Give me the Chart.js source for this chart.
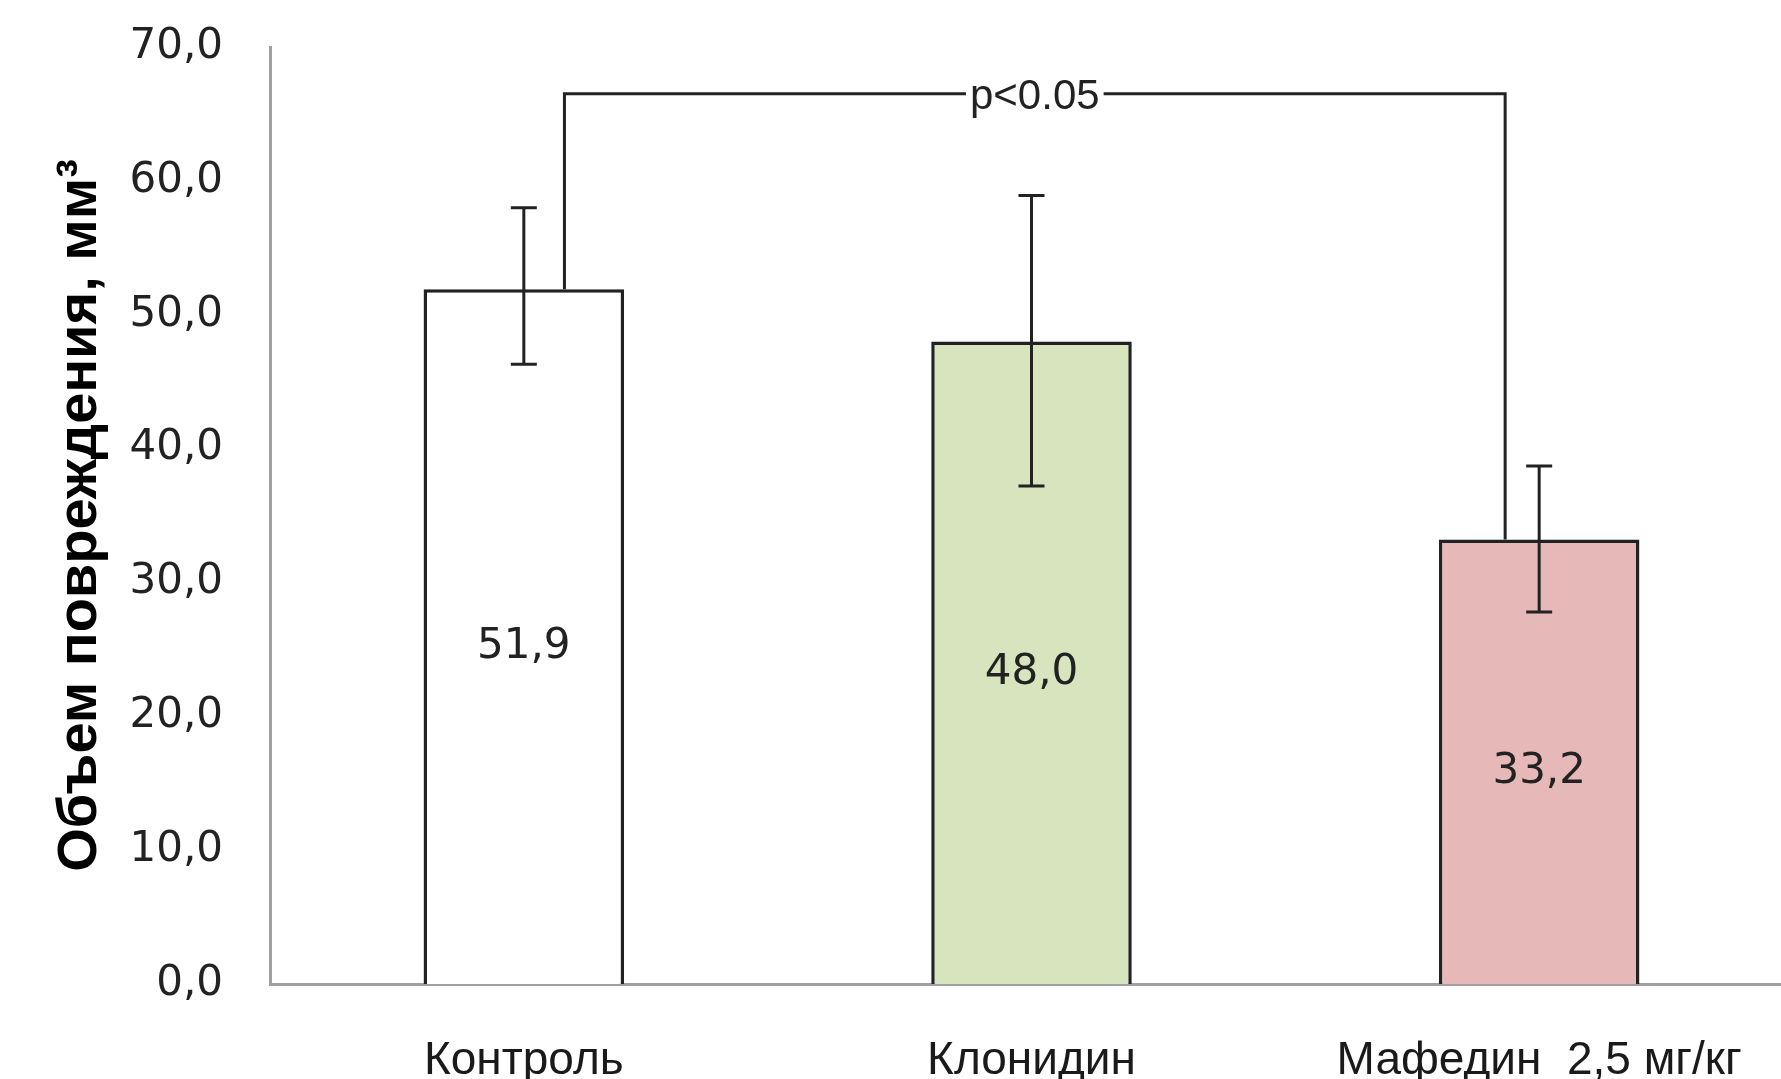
<!DOCTYPE html>
<html><head><meta charset="utf-8">
<script src="https://cdn.jsdelivr.net/npm/chart.js@4"></script>
<style>html,body{margin:0;padding:0;background:#fff;overflow:hidden;width:1781px;height:1079px}
#wrap{width:1800px;height:1079px;position:relative}</style></head>
<body><div id="wrap"><canvas id="c" width="1800" height="1079"></canvas></div>
<script>
// ---- data ----
const categories = ['Контроль', 'Клонидин', 'Мафедин  2,5 мг/кг'];
const values = [51.9, 48.0, 33.2];
const valueLabels = ['51,9', '48,0', '33,2'];
const errHigh = [58.0, 58.9, 38.7];
const errLow = [46.3, 37.2, 27.8];
const yTicks = [0, 10, 20, 30, 40, 50, 60, 70];
const bracketX = [0.08, 1.933];      // category units
const bracketY = 66.5;               // value units
const bracketEnds = [values[0], values[2]];
const bracketLabel = 'p<0.05';
const yTitle = 'Объем повреждения, мм³';

// ---- styles ----
const barFill = ['#ffffff', '#d7e4bd', '#e6b9b8'];
const ink = '#222222';

const overlay = {
  id: 'overlay',
  afterDatasetsDraw(chart) {
    const ctx = chart.ctx;
    const y = chart.scales.y, x = chart.scales.x;
    const meta = chart.getDatasetMeta(0);
    ctx.save();
    ctx.textAlign = 'center'; ctx.textBaseline = 'middle';
    ctx.font = '42px "DejaVu Sans"';
    ctx.fillStyle = ink;
    meta.data.forEach((el, i) => {
      ctx.fillText(valueLabels[i], el.x, (el.y + el.base) / 2 + 10);
    });
    ctx.strokeStyle = ink; ctx.lineWidth = 3;
    meta.data.forEach((el, i) => {
      const yh = y.getPixelForValue(errHigh[i]), yl = y.getPixelForValue(errLow[i]);
      ctx.beginPath();
      ctx.moveTo(el.x, yh); ctx.lineTo(el.x, yl);
      ctx.moveTo(el.x - 13, yh); ctx.lineTo(el.x + 13, yh);
      ctx.moveTo(el.x - 13, yl); ctx.lineTo(el.x + 13, yl);
      ctx.stroke();
    });
    const x1 = x.getPixelForValue(bracketX[0]), x2 = x.getPixelForValue(bracketX[1]);
    const yb = y.getPixelForValue(bracketY);
    ctx.beginPath();
    ctx.moveTo(x1, y.getPixelForValue(bracketEnds[0]));
    ctx.lineTo(x1, yb); ctx.lineTo(x2, yb);
    ctx.lineTo(x2, y.getPixelForValue(bracketEnds[1]));
    ctx.stroke();
    ctx.font = '42px "Liberation Sans"';
    const tw = ctx.measureText(bracketLabel).width;
    const xm = (x1 + x2) / 2;
    ctx.fillStyle = '#fff';
    ctx.fillRect(xm - tw / 2 - 4, yb - 20, tw + 8, 40);
    ctx.fillStyle = ink;
    ctx.fillText(bracketLabel, xm, yb + 4);
    ctx.restore();
  }
};

new Chart(document.getElementById('c'), {
  type: 'bar',
  data: {
    labels: categories,
    datasets: [{
      data: values,
      backgroundColor: barFill,
      borderColor: ink,
      borderWidth: 3.5,
      barPercentage: 0.395,
      categoryPercentage: 1
    }]
  },
  options: {
    responsive: false, animation: false, devicePixelRatio: 1,
    layout: { padding: { top: 47, right: 7, left: 0, bottom: 0 } },
    plugins: { legend: { display: false }, tooltip: { enabled: false } },
    scales: {
      x: {
        grid: { display: false, drawTicks: false },
        border: { display: true, color: '#a0a0a0', width: 3 },
        ticks: { font: { family: 'Liberation Sans', size: 46 }, color: '#1a1a1a', padding: 50, maxRotation: 0, autoSkip: false },
        afterFit(s) { s.height = 95; }
      },
      y: {
        min: 0, max: 70,
        grid: { display: false, drawTicks: false },
        border: { display: true, color: '#a0a0a0', width: 3 },
        afterBuildTicks(s) { s.ticks = yTicks.map(v => ({ value: v })); },
        ticks: {
          font: { family: 'DejaVu Sans', size: 42 }, color: '#222', padding: 47,
          callback: v => Number(v).toFixed(1).replace('.', ',')
        },
        title: {
          display: true, text: yTitle, color: '#000',
          font: { family: 'Liberation Sans', size: 56, weight: 'bold' },
          padding: { top: 47, bottom: 0 }
        },
        afterFit(s) { s.width = 270; s.paddingTop = 0; s.paddingBottom = 0; }
      }
    }
  },
  plugins: [overlay]
});
</script></body></html>
